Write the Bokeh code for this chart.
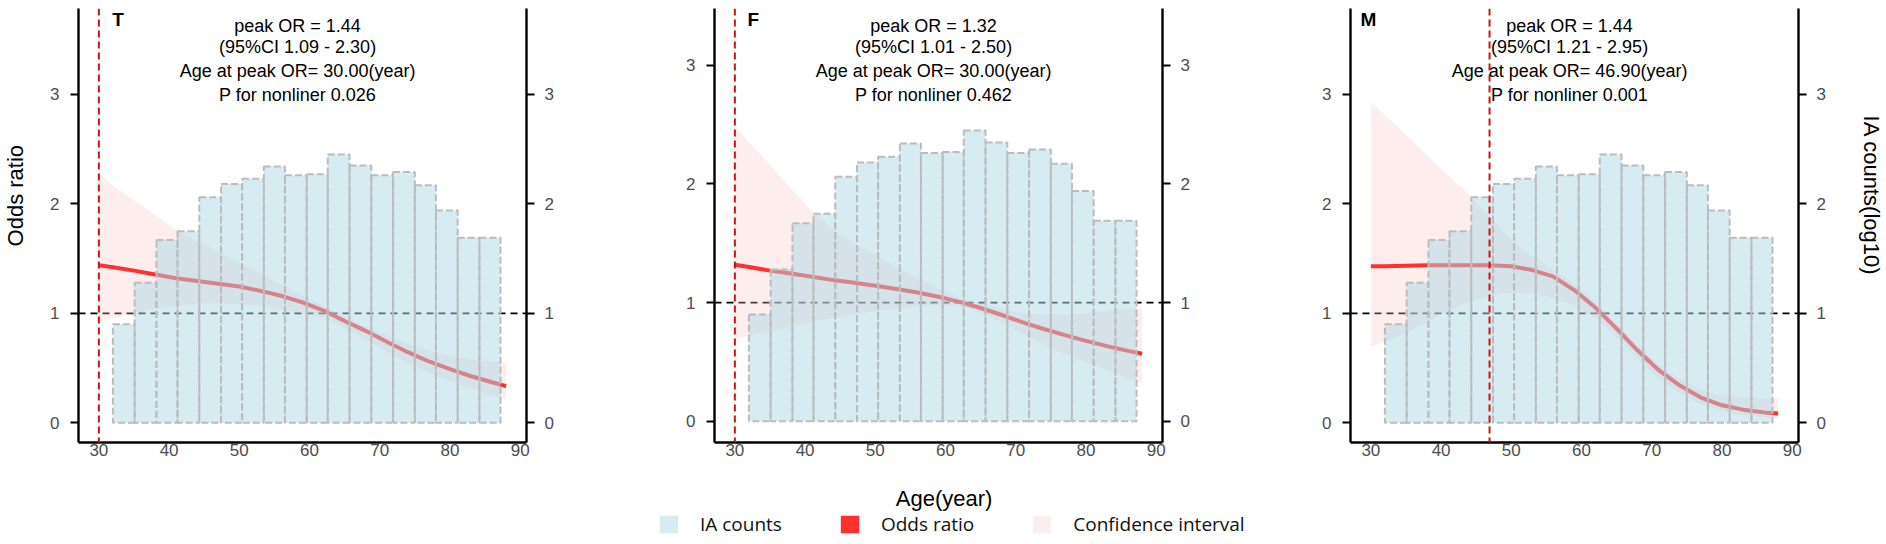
import math
from bokeh.plotting import figure
from bokeh.models import (ColumnDataSource, Span, Label, Legend, LegendItem,
                          LinearAxis, FixedTicker, Range1d)
from bokeh.layouts import row, column
from bokeh.embed import file_html
from bokeh.resources import INLINE

# ---------------- data ----------------
ages = [30, 32, 35, 38, 41, 44, 47, 50, 53, 56, 59, 62, 65, 68, 71, 74, 77, 80, 83, 86, 88]

or_T = [1.44, 1.42, 1.39, 1.355, 1.32, 1.295, 1.27, 1.245, 1.205, 1.16, 1.10, 1.025, 0.93, 0.84, 0.74, 0.645, 0.56, 0.49, 0.425, 0.37, 0.335]
lo_T = [0.92, 0.95, 1.00, 1.04, 1.07, 1.085, 1.09, 1.085, 1.07, 1.04, 1.00, 0.96, 0.87, 0.76, 0.65, 0.55, 0.46, 0.38, 0.31, 0.25, 0.22]
hi_T = [2.28, 2.17, 2.03, 1.90, 1.76, 1.66, 1.56, 1.46, 1.36, 1.26, 1.16, 1.07, 0.97, 0.88, 0.80, 0.72, 0.66, 0.61, 0.58, 0.56, 0.55]

or_F = [1.32, 1.30, 1.27, 1.245, 1.218, 1.19, 1.168, 1.142, 1.115, 1.086, 1.05, 1.007, 0.955, 0.896, 0.834, 0.778, 0.726, 0.678, 0.634, 0.594, 0.569]
lo_F = [0.70, 0.72, 0.76, 0.80, 0.84, 0.87, 0.90, 0.93, 0.95, 0.97, 0.98, 0.975, 0.92, 0.83, 0.74, 0.65, 0.57, 0.50, 0.43, 0.36, 0.32]
hi_F = [2.48, 2.35, 2.16, 1.96, 1.77, 1.61, 1.50, 1.40, 1.30, 1.21, 1.12, 1.04, 0.99, 0.95, 0.91, 0.90, 0.90, 0.91, 0.93, 0.95, 0.96]

or_M = [1.43, 1.43, 1.435, 1.44, 1.44, 1.44, 1.44, 1.43, 1.395, 1.335, 1.21, 1.05, 0.86, 0.66, 0.48, 0.34, 0.23, 0.16, 0.12, 0.095, 0.085]
lo_M = [0.70, 0.74, 0.82, 0.92, 1.02, 1.10, 1.16, 1.19, 1.18, 1.14, 1.07, 0.96, 0.78, 0.58, 0.40, 0.27, 0.17, 0.11, 0.07, 0.05, 0.04]
hi_M = [2.93, 2.81, 2.63, 2.44, 2.26, 2.08, 1.88, 1.67, 1.52, 1.40, 1.27, 1.10, 0.91, 0.71, 0.53, 0.40, 0.30, 0.25, 0.23, 0.22, 0.22]

bin_edges = [32.0, 35.1, 38.2, 41.2, 44.3, 47.4, 50.4, 53.5, 56.5, 59.6, 62.6, 65.7,
             68.8, 71.9, 75.0, 78.0, 81.1, 84.2, 87.2]
ia_counts_log10 = [0.90, 1.28, 1.67, 1.75, 2.06, 2.18, 2.23, 2.34, 2.26, 2.27, 2.45,
                   2.35, 2.26, 2.29, 2.17, 1.94, 1.69, 1.69]

panel_names = ["T", "F", "M"]
peak_or = ["1.44", "1.32", "1.44"]
ci_text = ["1.09 - 2.30", "1.01 - 2.50", "1.21 - 2.95"]
peak_age = [30.00, 30.00, 46.90]
p_nonlin = ["0.026", "0.462", "0.001"]

legend_labels = ["IA counts", "Odds ratio", "Confidence interval"]
x_ticks = [30, 40, 50, 60, 70, 80, 90]
y_ticks = [0, 1, 2, 3]

# ---------------- layout ----------------
FONT = "Liberation Sans"
PAGE_W, PAGE_H = 1886, 544
FRAME_W, FRAME_H = 448, 434
TOP = 8
BOTTOM = 24
ROW_H = TOP + FRAME_H + BOTTOM          # 466
BOT_H = PAGE_H - ROW_H                  # 78
X_RANGE = (27.1, 90.9)
Y_RANGES = [(-0.18, 3.784), (-0.178, 3.478), (-0.18, 3.784)]
LEFT_W = 40
b_left = [38, 74, 74]
b_right = [114, 114, 40]
frame_left_page = [78, 714, 1350]
RIGHT_X0 = 1838
RIGHT_W = PAGE_W - RIGHT_X0

BAR_FILL = "lightblue"
OR_COLOR = "#ff3030"
CI_COLOR = "#f8c4c4"
LEG_COLORS = ["#d6ebf2", OR_COLOR, "#fdeeee"]
NAN = float("nan")


def dx(page_x, i):
    return X_RANGE[0] + (page_x - frame_left_page[i]) * (X_RANGE[1] - X_RANGE[0]) / FRAME_W


def dy(page_y, i):
    y0, y1 = Y_RANGES[i]
    return y1 - (page_y - TOP) * (y1 - y0) / FRAME_H


def style_axis(ax, is_x=False):
    ax.axis_line_color = "black"
    ax.axis_line_width = 2.4
    ax.major_tick_line_color = "black"
    ax.major_tick_line_width = 2
    ax.minor_tick_line_color = None
    ax.major_tick_in = 0
    ax.major_label_text_font = FONT
    ax.major_label_text_font_size = "17px"
    ax.major_label_text_color = "#4d4d4d"
    if is_x:
        ax.major_tick_out = 0
        ax.major_label_standoff = 1
    else:
        ax.major_tick_out = 8
        ax.major_label_standoff = 11


def blank(width, height):
    c = figure(width=width, height=height, x_range=Range1d(0, width),
               y_range=Range1d(0, height), output_backend="svg",
               toolbar_location=None, x_axis_location=None, y_axis_location=None,
               min_border=0)
    c.outline_line_color = None
    c.grid.visible = False
    return c


series = [(or_T, lo_T, hi_T), (or_F, lo_F, hi_F), (or_M, lo_M, hi_M)]
figs = []
for i, name in enumerate(panel_names):
    orv, lov, hiv = series[i]
    p = figure(frame_width=FRAME_W, frame_height=FRAME_H,
               x_range=Range1d(*X_RANGE), y_range=Range1d(*Y_RANGES[i]),
               output_backend="svg", toolbar_location=None,
               min_border_left=b_left[i], min_border_right=b_right[i],
               min_border_top=TOP, min_border_bottom=BOTTOM)
    p.outline_line_color = None
    p.grid.visible = False

    p.xaxis.ticker = FixedTicker(ticks=x_ticks)
    p.yaxis.ticker = FixedTicker(ticks=y_ticks)
    style_axis(p.xaxis[0], is_x=True)
    style_axis(p.yaxis[0])
    rax = LinearAxis(ticker=FixedTicker(ticks=y_ticks))
    style_axis(rax)
    rax.major_label_standoff = 10
    p.add_layout(rax, "right")

    # reference line OR = 1 (beneath the bars)
    p.add_layout(Span(location=1, dimension="width", line_color="black",
                      line_dash="7 5", line_width=1.8, level="underlay"))

    src = ColumnDataSource(dict(age=ages, orv=orv, lo=lov, hi=hiv))
    p.varea(x="age", y1="lo", y2="hi", source=src,
            fill_color=CI_COLOR, fill_alpha=0.3)
    p.line(x="age", y="orv", source=src, line_color=OR_COLOR, line_width=4)

    bsrc = ColumnDataSource(dict(left=bin_edges[:-1], right=bin_edges[1:],
                                 top=ia_counts_log10))
    p.quad(left="left", right="right", bottom=0, top="top", source=bsrc,
           fill_color=BAR_FILL, fill_alpha=0.5, line_color="#bcbcbc",
           line_dash="7 3", line_width=2)

    # peak age line
    p.add_layout(Span(location=peak_age[i], dimension="height", line_color="#cc1414",
                      line_dash="7 4", line_width=2))

    # annotation texts
    lines = ["peak OR = " + peak_or[i],
             "(95%CI " + ci_text[i] + ")",
             "Age at peak OR= %.2f(year)" % peak_age[i],
             "P for nonliner " + p_nonlin[i]]
    for txt, py in zip(lines, [25, 46, 70.4, 94]):
        p.add_layout(Label(x=58.3, y=dy(py, i), text=txt, text_align="center",
                           text_baseline="middle", text_font=FONT,
                           text_font_size="18px", text_color="black"))

    letter_x = [111.7, 747, 1360][i]
    p.add_layout(Label(x=dx(letter_x, i), y=dy(8.5, i), text=name,
                       text_align="left", text_baseline="top", text_font=FONT,
                       text_font_size="19px", text_font_style="bold",
                       text_color="black"))
    figs.append(p)

# left title "Odds ratio"
left = blank(LEFT_W, ROW_H)
left.add_layout(Label(x=15.3, y=ROW_H - 201, text="Odds ratio", angle=math.pi / 2,
                      text_align="center", text_baseline="middle", text_font=FONT,
                      text_font_size="22px", text_color="black"))

# right title "IA counts(log10)"
right = blank(RIGHT_W, ROW_H)
right.add_layout(Label(x=1871 - RIGHT_X0, y=ROW_H - 201, text="IA counts(log10)",
                       angle=-math.pi / 2, text_align="center", text_baseline="middle",
                       text_font=FONT, text_font_size="22px", text_color="black"))

# bottom: x title and legend
bottom = blank(PAGE_W, BOT_H)
bottom.add_layout(Label(x=943.6, y=PAGE_H - 498, text="Age(year)",
                        text_align="center", text_baseline="middle", text_font=FONT,
                        text_font_size="22px", text_color="black"))
items = []
for lab, col in zip(legend_labels, LEG_COLORS):
    # legend proxy: a single undefined (NaN) quad, nothing is drawn in the canvas
    r = bottom.quad(left=[NAN], right=[NAN], bottom=[NAN], top=[NAN],
                    fill_color=col, line_color=None)
    items.append(LegendItem(label=lab, renderers=[r], index=0))
legend = Legend(items=items, orientation="horizontal",
                location=(657, PAGE_H - 515 - 22),
                glyph_width=23, glyph_height=22, label_standoff=20,
                spacing=56, padding=0, margin=0,
                border_line_color=None, background_fill_alpha=0,
                label_text_font="Open Sans", label_text_font_size="19px",
                label_text_color="#111111", label_height=22)
bottom.add_layout(legend)

layout = column(row(left, *figs, right), bottom)
open("out.html", "w").write(file_html(layout, INLINE))
